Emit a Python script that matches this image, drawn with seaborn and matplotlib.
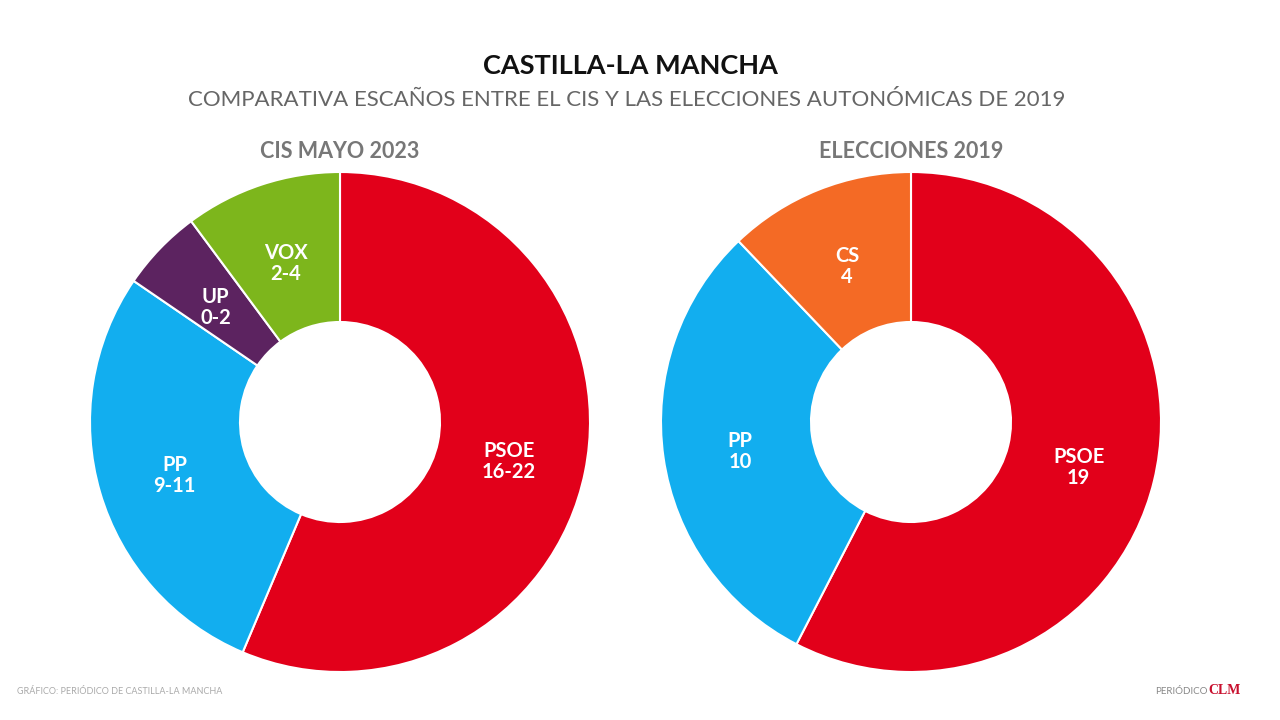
import matplotlib
matplotlib.use("Agg")
import matplotlib.pyplot as plt
import seaborn as sns
import numpy as np

# Datos
cis_partidos = ["PSOE", "PP", "UP", "VOX"]
cis_rangos = ["16-22", "9-11", "0-2", "2-4"]
cis_valores = [18.6, 9.3, 1.75, 3.35]   # cuota estimada del arco en la imagen
cis_colores = ["#E2001A", "#12AEEF", "#5C2360", "#7DB61C"]

elec_partidos = ["PSOE", "PP", "CS"]
elec_escanos = [19, 10, 4]
elec_colores = ["#E2001A", "#12AEEF", "#F46A25"]

sns.set_theme(style="white")
plt.rcParams["font.family"] = ["Lato", "DejaVu Sans"]

W, H = 1280, 720
fig = plt.figure(figsize=(W / 100, H / 100), dpi=100)
fig.patch.set_facecolor("white")


def donut(cx, cy, r, valores, colores, etiquetas, titulo):
    ax = fig.add_axes([(cx - r) / W, (H - cy - r) / H, 2 * r / W, 2 * r / H])
    wedges, _ = ax.pie(valores, colors=colores, startangle=90, counterclock=False,
                       radius=1, wedgeprops=dict(width=0.6, edgecolor="white", linewidth=1.5))
    ax.set_xlim(-1, 1)
    ax.set_ylim(-1, 1)
    ax.set_aspect("equal")
    ax.axis("off")
    for w, txt in zip(wedges, etiquetas):
        ang = np.deg2rad((w.theta1 + w.theta2) / 2)
        ax.text(0.69 * np.cos(ang), 0.69 * np.sin(ang) - 0.02, txt, ha="center", va="center",
                color="white", fontsize=14.5, fontweight="bold", linespacing=1.05)
    fig.text(cx / W, 1 - 152 / H, titulo, ha="center", va="center",
             fontsize=15.5, fontweight="bold", color="#777777")


donut(340, 422, 250, cis_valores, cis_colores,
      [f"{p}\n{r}" for p, r in zip(cis_partidos, cis_rangos)], "CIS MAYO 2023")
donut(911, 422, 250, elec_escanos, elec_colores,
      [f"{p}\n{e}" for p, e in zip(elec_partidos, elec_escanos)], "ELECCIONES 2019")

fig.text(630 / W, 1 - 66 / H, "CASTILLA-LA MANCHA", ha="center", va="center",
         fontsize=19.5, fontweight="bold", color="#111111")
fig.text(627 / W, 1 - 100 / H, "COMPARATIVA ESCAÑOS ENTRE EL CIS Y LAS ELECCIONES AUTONÓMICAS DE 2019",
         ha="center", va="center", fontsize=16, color="#666666")

fig.text(17 / W, 1 - 691 / H, "GRÁFICO: PERIÓDICO DE CASTILLA-LA MANCHA", ha="left", va="center",
         fontsize=6.5, color="#AAAAAA")
fig.text(1208 / W, 1 - 691 / H, "PERIÓDICO", ha="right", va="center", fontsize=7, color="#888888")
fig.text(1208 / W, 1 - 690 / H, "CLM", ha="left", va="center", fontsize=10, color="#C8102E",
         fontweight="bold", family=["Liberation Serif", "DejaVu Serif"])

fig.savefig("out.png", dpi=100, facecolor="white")
